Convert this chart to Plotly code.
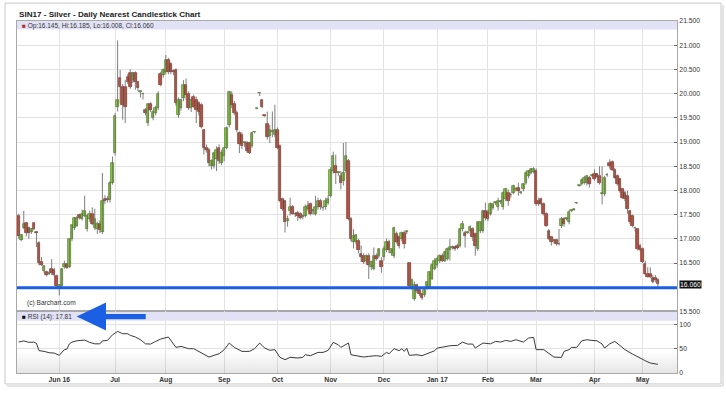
import plotly.graph_objects as go

# ---------------- data (daily, trading-day index 0 = 2016-05-09) ----------------
open_ = [
    17.48,16.98,17.23,17.32,17.22,17.14,17.32,17.15,16.92,16.53,16.33,16.32,16.27,16.37,16.36,16.24,
    16.00,16.02,16.42,16.47,16.42,16.99,17.22,17.27,17.50,17.41,17.48,17.20,17.40,17.51,17.22,17.20,17.30,17.15,17.82,17.82,17.80,18.16,
    18.78,19.73,20.32,20.14,20.14,20.35,20.42,20.28,20.43,20.23,20.04,19.99,19.66,19.39,19.79,19.49,19.60,19.70,20.40,20.38,
    20.45,20.69,20.62,20.46,20.49,19.56,19.70,19.90,20.18,20.00,19.70,19.94,19.87,19.80,19.77,19.25,18.88,18.84,18.50,18.50,18.64,18.88,18.57,
    18.71,18.88,19.36,19.97,19.79,19.60,19.19,19.15,18.98,18.98,18.98,18.91,19.20,19.69,20.01,19.86,19.56,19.38,19.12,19.20,19.15,
    19.25,18.91,17.82,17.78,17.37,17.58,17.65,17.51,17.54,17.51,17.46,17.48,17.61,17.71,17.58,17.51,17.65,17.78,17.63,17.65,17.75,
    17.89,18.40,18.50,18.36,18.30,18.19,18.40,18.60,17.41,16.93,16.93,16.96,16.69,16.65,16.55,16.65,16.42,16.38,16.65,16.65,16.55,
    16.62,16.76,16.93,16.70,16.65,17.10,17.03,16.99,17.13,17.15,16.50,16.00,15.76,16.04,15.94,15.86,15.83,15.97,16.00,16.17,16.38,
    16.45,16.55,16.65,16.55,16.58,16.76,16.82,16.83,16.86,16.86,17.20,17.13,17.13,17.17,17.20,17.10,16.79,17.17,17.17,17.58,
    17.56,17.51,17.64,17.75,17.65,17.76,17.65,17.82,17.95,17.90,17.95,18.02,18.06,17.95,18.02,18.16,18.30,18.36,18.38,
    18.40,17.78,17.82,17.71,17.51,17.17,17.03,16.96,16.97,16.90,17.27,17.41,17.41,17.34,17.58,17.60,17.73,18.09,18.13,18.15,18.16,18.26,18.30,
    18.33,18.33,18.30,17.92,17.92,18.31,18.57,18.58,18.43,18.30,18.23,18.02,17.95,17.89,17.58,17.48,17.22,17.20,16.86,
    16.79,16.48,16.28,16.28,16.19,16.20,16.145,
]
high = [
    17.52,17.10,17.58,17.35,17.25,17.22,17.34,17.16,16.95,16.62,16.45,16.34,16.33,16.58,16.40,16.26,
    16.06,16.40,16.55,16.50,17.00,17.30,17.45,17.47,17.52,17.60,17.89,17.50,17.58,17.65,17.62,17.35,17.38,18.36,17.90,17.88,18.20,18.70,
    19.60,21.10,20.49,20.20,20.28,20.40,20.50,20.45,20.46,20.26,20.06,20.02,19.70,19.79,19.82,19.66,19.75,20.05,20.45,20.52,
    20.80,20.74,20.65,20.50,20.52,19.92,19.90,20.28,20.31,20.05,19.90,19.98,19.94,19.84,19.80,19.27,18.95,18.88,18.64,18.80,18.91,18.95,18.84,
    18.90,19.32,20.06,20.05,19.85,19.65,19.22,19.20,19.00,19.02,19.00,19.20,19.22,19.70,20.03,19.88,19.57,19.63,19.35,19.63,19.77,
    19.30,18.95,17.85,17.80,17.48,17.85,17.70,17.55,17.58,17.55,17.50,17.71,17.78,17.75,17.62,17.89,17.85,17.82,17.68,17.85,17.90,
    18.48,18.80,18.74,18.40,18.40,18.98,19.00,18.65,17.45,17.20,17.10,17.00,16.86,16.70,16.68,16.70,16.55,16.82,16.70,16.80,16.62,
    16.85,17.00,16.98,16.80,17.25,17.15,17.06,17.15,17.17,17.17,16.52,16.18,16.12,16.07,15.96,15.88,15.96,16.12,16.33,16.50,16.60,
    16.62,16.68,16.70,16.75,16.82,17.00,16.86,16.86,16.90,17.22,17.37,17.17,17.15,17.28,17.24,17.13,17.35,17.35,17.60,17.75,
    17.60,17.75,17.73,17.78,17.85,17.80,17.98,18.05,18.02,17.95,18.12,18.06,18.16,17.98,18.15,18.40,18.42,18.46,18.48,
    18.45,17.85,17.85,17.75,17.55,17.20,17.06,16.99,17.00,17.20,17.45,17.45,17.44,17.58,17.60,17.62,17.74,18.10,18.25,18.30,18.32,18.30,18.32,
    18.43,18.36,18.50,18.50,18.30,18.36,18.64,18.62,18.46,18.33,18.26,18.05,17.99,17.99,17.60,17.50,17.25,17.22,16.90,
    16.82,16.55,16.41,16.41,16.25,16.25,16.185,
]
low = [
    17.00,16.95,17.20,17.05,17.00,17.10,17.18,16.83,16.45,16.44,16.30,16.22,16.25,16.25,16.22,15.98,
    15.83,16.00,16.38,16.38,16.40,16.95,17.18,17.25,17.40,17.38,17.45,17.15,17.35,17.28,17.18,17.10,17.12,17.10,17.72,17.75,17.75,18.12,
    18.72,19.63,19.80,19.46,19.39,20.20,20.10,20.22,20.08,20.05,19.92,19.88,19.55,19.33,19.62,19.45,19.55,19.66,20.15,20.33,
    20.40,20.40,20.40,20.38,19.75,19.50,19.65,19.84,19.87,19.66,19.62,19.70,19.39,19.55,19.28,18.74,18.78,18.50,18.43,18.45,18.40,18.55,18.52,
    18.60,18.85,19.30,19.70,19.55,19.20,18.77,18.85,18.90,18.78,18.75,18.88,19.18,19.68,19.95,19.70,19.52,19.05,18.98,19.10,19.10,
    18.85,17.75,17.58,17.13,17.25,17.48,17.50,17.45,17.37,17.40,17.40,17.44,17.58,17.48,17.50,17.48,17.60,17.60,17.58,17.60,17.70,
    17.85,18.35,18.13,18.30,18.02,18.10,18.36,17.38,16.95,16.80,16.88,16.70,16.52,16.48,16.50,16.17,16.35,16.35,16.55,16.60,16.30,
    16.55,16.72,16.70,16.65,16.60,16.90,16.80,16.95,16.80,17.10,15.98,15.95,15.72,15.88,15.82,15.74,15.80,15.95,15.98,16.15,16.35,
    16.40,16.50,16.52,16.52,16.55,16.55,16.78,16.75,16.78,16.82,17.15,16.82,17.10,17.10,16.95,16.65,16.75,17.12,17.12,17.38,
    17.36,17.48,17.60,17.70,17.58,17.72,17.60,17.78,17.68,17.85,17.92,17.98,17.89,17.92,17.98,18.12,18.25,18.33,18.35,
    17.68,17.68,17.68,17.48,17.25,16.98,16.86,16.90,16.86,16.86,17.22,17.25,17.38,17.30,17.55,17.58,17.72,18.08,18.10,18.12,18.10,18.06,18.28,
    18.20,18.26,18.12,17.71,17.88,18.28,18.45,18.40,18.24,18.10,17.95,17.82,17.78,17.52,17.30,17.24,17.15,16.76,16.74,
    16.50,16.25,16.20,16.18,16.08,16.10,16.008,
]
close = [
    17.05,17.07,17.30,17.12,17.12,17.20,17.20,17.13,16.49,16.46,16.43,16.25,16.30,16.30,16.26,16.02,
    16.04,16.37,16.47,16.40,16.99,17.28,17.42,17.44,17.44,17.51,17.58,17.47,17.52,17.30,17.40,17.30,17.18,17.78,17.78,17.80,18.16,18.57,
    19.53,19.87,20.14,19.77,19.73,20.25,20.14,20.42,20.25,20.11,20.04,19.99,19.60,19.79,19.67,19.63,19.70,20.00,20.18,20.49,
    20.69,20.45,20.45,20.45,19.80,19.87,19.87,20.18,19.97,19.70,19.87,19.73,19.66,19.63,19.32,18.88,18.84,18.57,18.60,18.78,18.84,18.60,18.78,
    18.88,19.29,20.04,19.77,19.60,19.25,18.95,18.91,18.98,18.81,18.78,19.19,19.20,19.69,20.01,19.72,19.54,19.10,19.25,19.22,19.25,
    18.88,17.78,17.61,17.35,17.40,17.65,17.51,17.51,17.48,17.44,17.46,17.65,17.68,17.51,17.58,17.65,17.78,17.65,17.63,17.78,17.82,
    18.43,18.72,18.36,18.36,18.16,18.36,18.71,17.41,17.00,17.06,17.08,16.76,16.62,16.52,16.65,16.45,16.52,16.65,16.58,16.79,16.41,
    16.79,16.93,16.76,16.79,17.22,16.93,16.86,17.13,16.89,17.15,16.02,16.14,16.04,15.92,15.85,15.78,15.94,16.10,16.31,16.45,16.55,
    16.58,16.65,16.55,16.72,16.79,16.83,16.82,16.79,16.82,17.20,17.30,17.06,17.13,17.24,17.03,16.86,17.34,17.34,17.58,17.44,
    17.41,17.71,17.71,17.75,17.78,17.76,17.95,18.02,17.78,17.90,18.09,18.02,17.99,17.95,18.13,18.36,18.40,18.45,18.45,
    17.71,17.71,17.71,17.51,17.27,17.00,16.93,16.96,16.89,16.89,17.41,17.30,17.41,17.56,17.58,17.60,17.73,18.09,18.21,18.26,18.30,18.13,18.30,
    18.23,18.27,18.16,17.95,18.26,18.31,18.50,18.43,18.26,18.13,17.99,17.85,17.82,17.61,17.34,17.27,17.22,16.79,16.76,
    16.52,16.28,16.21,16.22,16.11,16.14,16.060,
]

# RSI(14) (trading-day index, value)
rsi_x = [0,2,4,6,7,8,10,12,14,16,18,19,20,21,23,26,28,30,32,33,35,37,39,41,43,44,46,48,50,52,54,56,59,60,
         62,64,67,69,71,73,75,77,79,81,83,85,88,91,93,95,97,99,101,103,105,107,110,112,113,115,118,120,122,
         124,126,127,129,130,131,133,136,138,141,143,145,146,148,150,151,152,153,154,157,159,162,164,165,168,
         170,173,175,177,179,180,183,186,188,190,192,194,196,199,201,203,204,207,209,211,213,214,215,217,218,
         220,222,224,226,228,230,231,233,235,237,239,242,244,247,249,252]
rsi_val = [63.7,66,63,63.6,61,46,44.5,41.7,41,36.3,48,49,60,63.6,66.3,67.7,63,60,60,66,67,78.7,85.6,80.8,
           80.7,77.4,74,68.4,60,59.5,65,69.8,74,67,52.7,54.8,50,50,44.5,37.6,32.8,36.3,39.6,47.9,61.6,52.7,
           44.5,44.5,50,61.6,51.3,46.6,48,32.2,27.4,32.2,30.8,32.2,37.6,35.6,42.4,42.4,46.6,63,58,52.7,58,61.6,
           37.6,35.6,32.8,34.2,35.6,34.2,42.4,39.6,50,45.8,50,44.5,51,36.3,37.6,35.6,42.4,45.8,51.3,54.8,56,
           56.8,63.6,59.5,59.5,51.3,61.6,60,65,63.6,67,65,68.4,63.6,71.9,73.2,48,48,41,32.8,32.2,32.2,44.5,48,
           52.7,52.7,66.3,68.4,67,66.3,59.5,51.3,60,65,56.8,48,39,32.8,25.3,20.5,17.81]

month_idx = [16, 38, 58, 81, 102, 123, 144, 165, 185, 204, 227, 246]
month_labels = ["Jun 16", "Jul", "Aug", "Sep", "Oct", "Nov", "Dec", "Jan 17", "Feb", "Mar", "Apr", "May"]
price_ticks = [15.5, 16.0, 16.5, 17.0, 17.5, 18.0, 18.5, 19.0, 19.5, 20.0, 20.5, 21.0, 21.5]
rsi_ticks = [0, 50, 100]
support_level = 15.99
last_price = 16.060
last_rsi = 17.81

# ---------------- layout helpers (pixel -> paper) ----------------
W, H = 726, 396
L, R, T, B = 17, 49, 21, 21
PW, PH = W - L - R, H - T - B


def pp(xp, yp):
    return (xp - L) / PW, (H - B - yp) / PH


FONT = "Liberation Sans, Arial, sans-serif"
GRID = "#e3e3e6"
AXL = "#a8a8a8"
BAND = "#e2e2f6"
UP_FILL, UP_EDGE = "#84d22c", "#4f7229"
DN_FILL, DN_EDGE = "#d0462f", "#7a2e23"

idx = list(range(len(close)))
xr = [(L - 18.7) / 2.5365, (W - R - 18.7) / 2.5365]
split = 0.175

# candle geometry derived from the OHLC lists
body_lo = [min(o, c) for o, c in zip(open_, close)]
body_h = [max(abs(c - o), 0.012) for o, c in zip(open_, close)]
up = [c >= o for o, c in zip(open_, close)]
wick_x, wick_y = [], []
for i, hi, lo in zip(idx, high, low):
    wick_x += [i, i, None]
    wick_y += [lo, hi, None]

fig = go.Figure()
# soft grey shading at the foot of the RSI panel
fig.add_trace(go.Scatter(
    x=[xr[0], xr[1], xr[1], xr[0]], y=[0, 0, 45, 45], mode="lines", fill="toself",
    line=dict(width=0), fillgradient=dict(type="vertical",
                                          colorscale=[[0, "rgba(0,0,0,0.10)"], [1, "rgba(0,0,0,0)"]]),
    showlegend=False, hoverinfo="skip", xaxis="x2", yaxis="y2"))
fig.add_trace(go.Scatter(
    x=wick_x, y=wick_y, mode="lines", line=dict(color="#6f6f6f", width=0.9),
    showlegend=False, hoverinfo="skip", xaxis="x", yaxis="y"))
fig.add_trace(go.Bar(
    x=idx, y=body_h, base=body_lo, width=1.0,
    marker=dict(color=[UP_FILL if u else DN_FILL for u in up],
                line=dict(color=[UP_EDGE if u else DN_EDGE for u in up], width=0.7)),
    showlegend=False, hoverinfo="skip", xaxis="x", yaxis="y"))
fig.add_trace(go.Scatter(
    x=rsi_x, y=rsi_val, mode="lines", line=dict(color="#3a3a3a", width=1),
    showlegend=False, hoverinfo="skip", xaxis="x2", yaxis="y2"))

common_x = dict(range=xr, tickmode="array", tickvals=month_idx, showgrid=True, gridcolor=GRID,
                gridwidth=1, zeroline=False, showline=True, mirror=True, linecolor=AXL, linewidth=1,
                ticks="", fixedrange=True)
price_text = ["" if abs(v - 16.0) < 1e-9 else f"{v:.3f}" for v in price_ticks]
fig.update_layout(
    width=W, height=H, margin=dict(l=L, r=R, t=T, b=B), paper_bgcolor="white", plot_bgcolor="white",
    font=dict(family=FONT, size=7, color="#333333"), bargap=0,
    xaxis=dict(domain=[0, 1], anchor="y", showticklabels=False, **common_x),
    xaxis2=dict(domain=[0, 1], anchor="y2", matches="x", ticktext=[f"<b>{m}</b>" for m in month_labels],
                tickfont=dict(size=6.8, color="#333333", family=FONT), **common_x),
    yaxis=dict(domain=[split, 1], anchor="x", side="right", range=[15.5, 21.5], tickmode="array",
               tickvals=price_ticks, ticktext=price_text, ticks="inside", ticklen=3,
               tickcolor="#666", tickfont=dict(size=6.8, color="#333333"), showgrid=True, gridcolor=GRID,
               zeroline=False, showline=True, mirror=True, linecolor=AXL, fixedrange=True),
    yaxis2=dict(domain=[0, split], anchor="x2", side="right", range=[0, 126.7], tickmode="array",
                tickvals=rsi_ticks, ticks="inside", ticklen=3, tickcolor="#666",
                tickfont=dict(size=6.8, color="#333333"), showgrid=True, gridcolor=GRID,
                zeroline=False, showline=True, mirror=True, linecolor=AXL, fixedrange=True),
)

shapes = []
# header bands
shapes.append(dict(type="rect", xref="x domain", yref="y", x0=0, x1=1, y0=21.5 - 8.5 / 48.67, y1=21.5,
                   fillcolor=BAND, line=dict(width=0), layer="below"))
shapes.append(dict(type="rect", xref="x2 domain", yref="y2", x0=0, x1=1, y0=107.4, y1=126.7,
                   fillcolor=BAND, line=dict(width=0), layer="below"))
# support line
shapes.append(dict(type="line", xref="x domain", yref="y", x0=0, x1=1, y0=support_level, y1=support_level,
                   line=dict(color="#1b5fe4", width=3)))
# outer frame
fx0, fy0 = pp(5, 3)
fx1, fy1 = pp(721, 386)
shapes.append(dict(type="rect", xref="paper", yref="paper", x0=fx0, x1=fx1, y0=fy1, y1=fy0,
                   line=dict(color="#c8c8c8", width=1), layer="below"))
sx0, sy0 = pp(723, 5)
sx1, sy1 = pp(723, 388)
shapes.append(dict(type="line", xref="paper", yref="paper", x0=sx0, x1=sx1, y0=sy0, y1=sy1,
                   line=dict(color="#e4e4e4", width=2)))
bx0, by0 = pp(7, 388)
shapes.append(dict(type="line", xref="paper", yref="paper", x0=bx0, x1=sx1, y0=by0, y1=by0,
                   line=dict(color="#e4e4e4", width=2)))
# blue arrow
pts = [(76.7, 318.3), (106, 304), (106, 315.7), (145.7, 315.7), (145.7, 321), (106, 321), (106, 332.3)]
path = "M " + " L ".join(f"{pp(a, b)[0]:.5f},{pp(a, b)[1]:.5f}" for a, b in pts) + " Z"
shapes.append(dict(type="path", xref="paper", yref="paper", path=path, fillcolor="#1b5fe4",
                   line=dict(width=0)))
fig.update_layout(shapes=shapes)

ann = []


def text(xp, yp, s, size, color="#333333", anchor="left"):
    x, y = pp(xp, yp)
    ann.append(dict(xref="paper", yref="paper", x=x, y=y, text=s, showarrow=False, xanchor=anchor,
                    yanchor="middle", font=dict(size=size, color=color, family=FONT)))


text(16.5, 14.5, "<b>SIN17 - Silver - Daily Nearest Candlestick Chart</b>", 8.1, "#222222")
text(20, 25.6, f"<span style='color:#b8302a'>■</span> Op:{open_[-1]:.3f}, Hi:{high[-1]:.3f}, "
               f"Lo:{low[-1]:.3f}, Cl:{close[-1]:.3f}", 6.5, "#333333")
text(25, 304.5, "(c) Barchart.com", 6.6, "#333333")
text(20, 318.3, f"<span style='color:#111'>■</span> RSI (14): {last_rsi:.2f}", 6.5, "#333333")
ann.append(dict(xref="paper", yref="y", x=1, y=last_price, xanchor="left", yanchor="middle", xshift=2,
                text=f"{last_price:.3f}", showarrow=False, bgcolor="#111111", borderpad=0,
                font=dict(size=6.8, color="white", family=FONT)))
fig.update_layout(annotations=ann)

fig.write_html("out.html")
